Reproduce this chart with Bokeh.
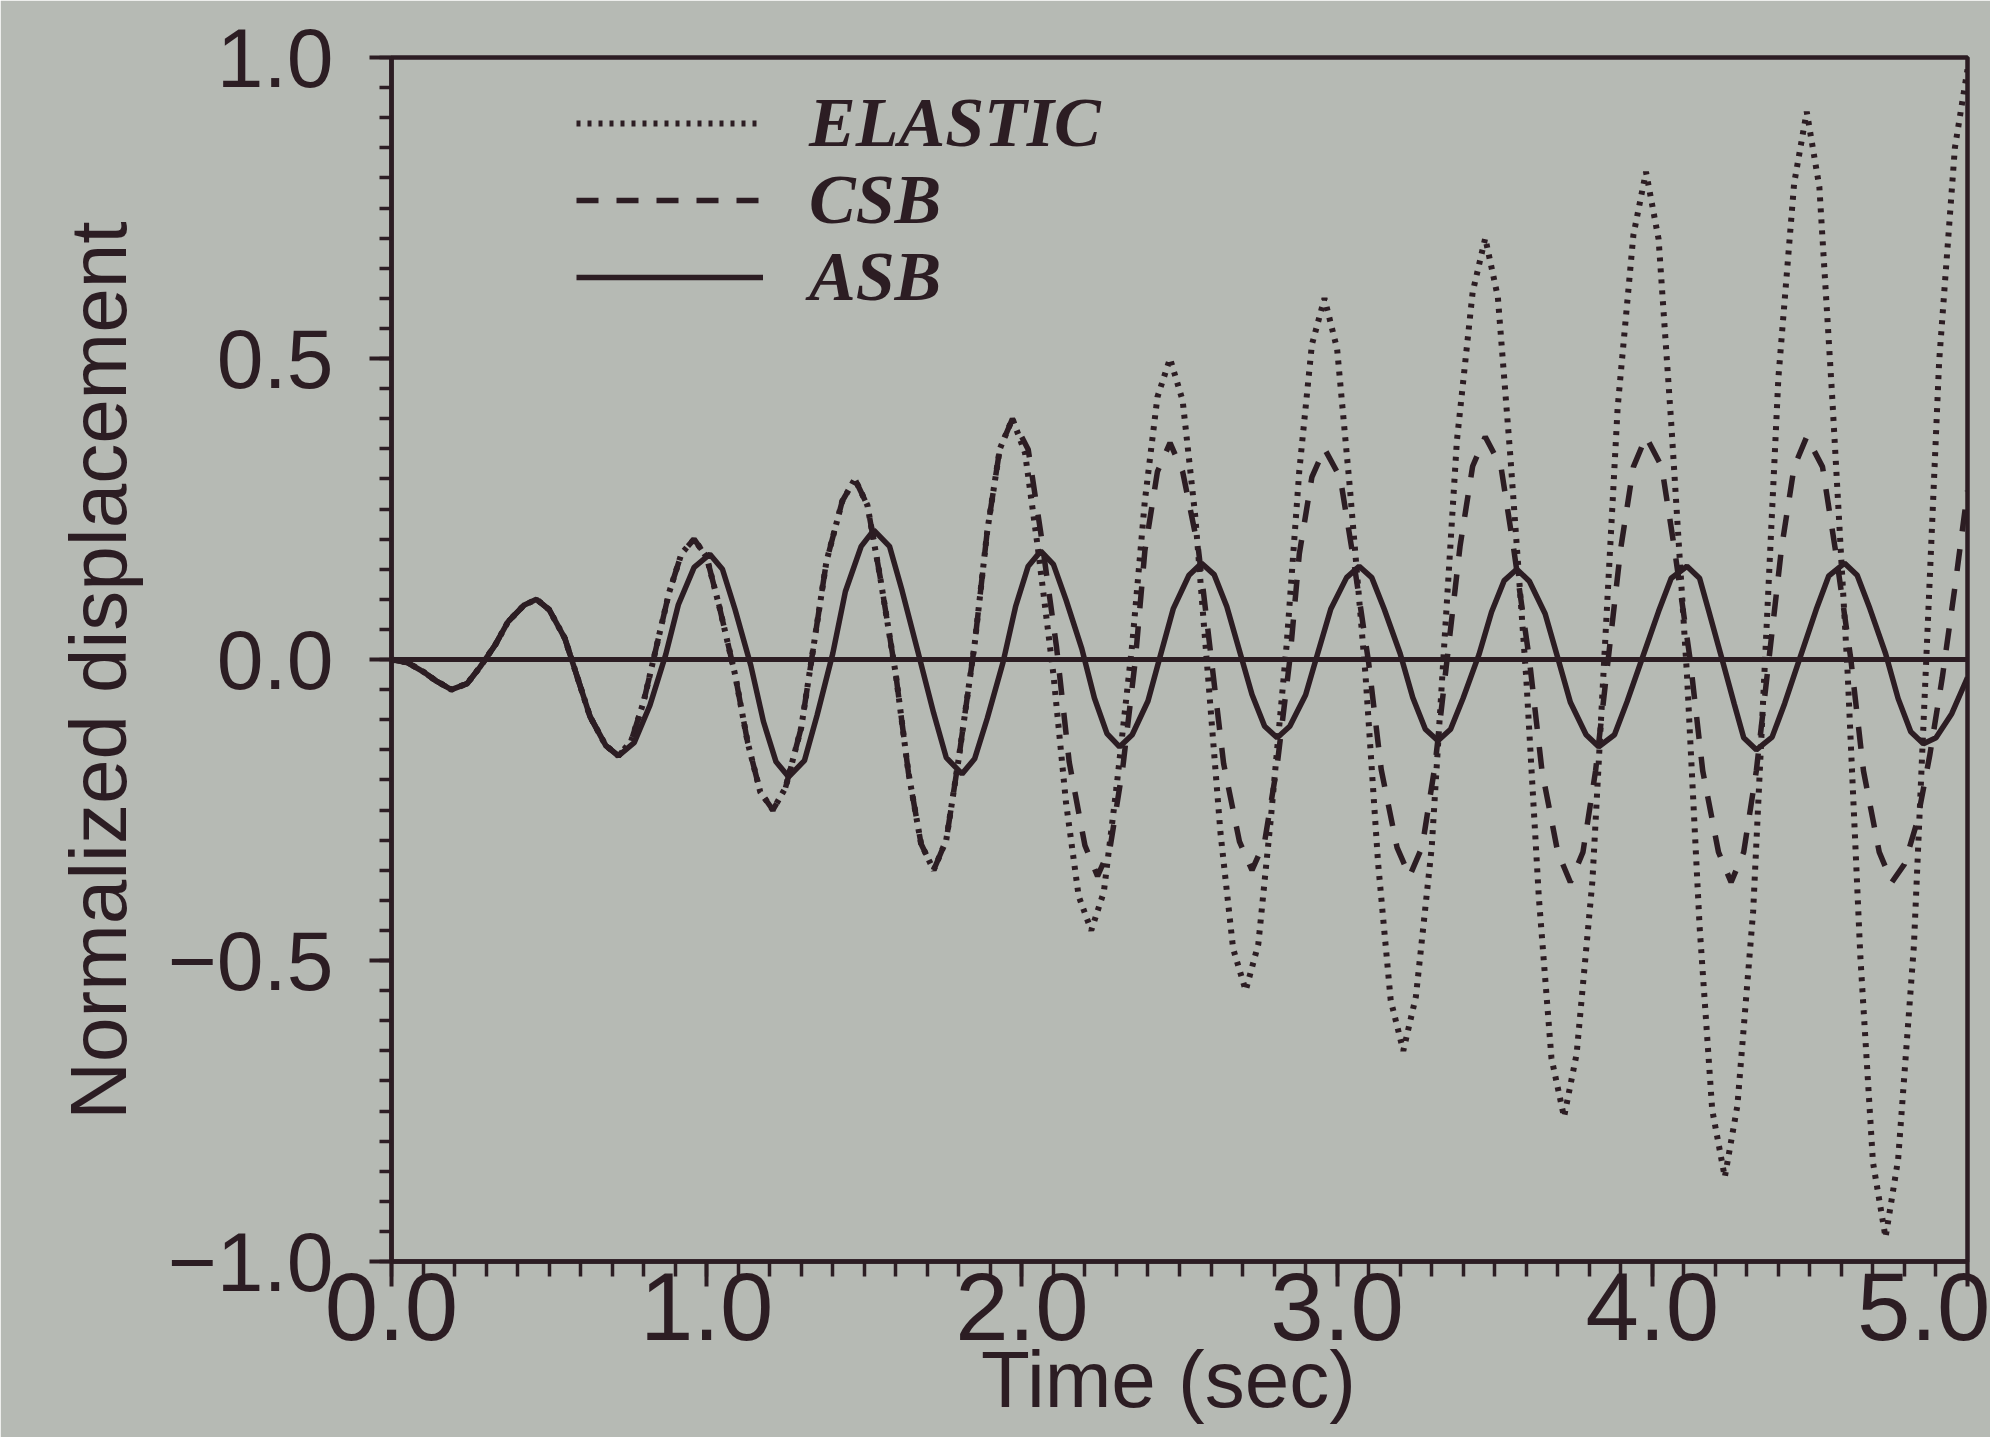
from bokeh.plotting import figure
from bokeh.models import (Range1d, SingleIntervalTicker, Span, Legend, LegendItem)
from bokeh.embed import file_html
from bokeh.resources import INLINE

# ---------------- data ----------------
ELASTIC_T = [0.00, 0.05, 0.10, 0.14, 0.19, 0.24, 0.28, 0.33, 0.37, 0.42, 0.46,
             0.50, 0.55, 0.59, 0.63, 0.68, 0.72, 0.76, 0.80, 0.84, 0.88, 0.92, 0.96,
             1.00, 1.04, 1.09, 1.13, 1.17, 1.21, 1.25, 1.30, 1.34, 1.38, 1.43, 1.47,
             1.51, 1.55, 1.60, 1.64, 1.68, 1.72, 1.76, 1.80, 1.85, 1.89, 1.93, 1.97,
             2.01, 2.05, 2.10, 2.14, 2.18, 2.22, 2.26, 2.30, 2.35, 2.39, 2.43, 2.47,
             2.51, 2.55, 2.59, 2.63, 2.67, 2.71, 2.75, 2.79, 2.84, 2.88, 2.92, 2.96,
             3.00, 3.04, 3.09, 3.13, 3.17, 3.21, 3.25, 3.30, 3.34, 3.38, 3.43, 3.47,
             3.51, 3.55, 3.60, 3.64, 3.68, 3.72, 3.76, 3.81, 3.85, 3.89, 3.94, 3.98,
             4.02, 4.06, 4.11, 4.15, 4.19, 4.23, 4.27, 4.32, 4.36, 4.40, 4.45, 4.49,
             4.53, 4.57, 4.62, 4.66, 4.70, 4.74, 4.78, 4.83, 4.87, 4.91, 4.96, 5.00]
ELASTIC_D = [0.000, -0.005, -0.020, -0.035, -0.050, -0.040, -0.013, 0.025, 0.063, 0.090, 0.100,
             0.083, 0.035, -0.030, -0.095, -0.143, -0.160, -0.136, -0.070, 0.020, 0.110, 0.176, 0.200,
             0.170, 0.088, -0.025, -0.138, -0.220, -0.250, -0.213, -0.113, 0.025, 0.163, 0.263, 0.300,
             0.256, 0.138, -0.025, -0.188, -0.306, -0.350, -0.300, -0.163, 0.025, 0.213, 0.350, 0.400,
             0.343, 0.188, -0.025, -0.238, -0.393, -0.450, -0.386, -0.213, 0.025, 0.263, 0.436, 0.500,
             0.430, 0.238, -0.025, -0.288, -0.480, -0.550, -0.473, -0.263, 0.025, 0.313, 0.523, 0.600,
             0.516, 0.288, -0.025, -0.338, -0.566, -0.650, -0.560, -0.313, 0.025, 0.363, 0.610, 0.700,
             0.602, 0.335, -0.030, -0.395, -0.662, -0.760, -0.655, -0.368, 0.025, 0.418, 0.705, 0.810,
             0.698, 0.393, -0.025, -0.443, -0.748, -0.860, -0.741, -0.418, 0.025, 0.468, 0.791, 0.910,
             0.785, 0.443, -0.025, -0.493, -0.835, -0.960, -0.830, -0.475, 0.010, 0.495, 0.850, 0.980]

CSB_T = [0.00, 0.05, 0.10, 0.14, 0.19, 0.24, 0.28, 0.33, 0.37, 0.42, 0.46,
         0.50, 0.55, 0.59, 0.63, 0.68, 0.72, 0.76, 0.80, 0.84, 0.88, 0.92, 0.96,
         1.00, 1.04, 1.09, 1.13, 1.17, 1.21, 1.25, 1.30, 1.34, 1.38, 1.43, 1.47,
         1.51, 1.55, 1.60, 1.64, 1.68, 1.72, 1.76, 1.80, 1.85, 1.89, 1.93, 1.97,
         2.02, 2.06, 2.11, 2.15, 2.20, 2.24, 2.28, 2.32, 2.36, 2.39, 2.43, 2.47,
         2.51, 2.56, 2.60, 2.64, 2.69, 2.73, 2.77, 2.81, 2.85, 2.88, 2.92, 2.96,
         3.01, 3.05, 3.10, 3.14, 3.19, 3.23, 3.27, 3.31, 3.35, 3.39, 3.43, 3.47,
         3.52, 3.56, 3.61, 3.65, 3.70, 3.74, 3.78, 3.82, 3.86, 3.90, 3.94, 3.98,
         4.03, 4.07, 4.12, 4.16, 4.21, 4.25, 4.29, 4.33, 4.37, 4.41, 4.45, 4.49,
         4.54, 4.58, 4.63, 4.67, 4.72, 4.76, 4.80, 4.84, 4.88, 4.92, 4.96, 5.00]
CSB_D = [0.000, -0.005, -0.020, -0.035, -0.050, -0.040, -0.013, 0.025, 0.063, 0.090, 0.100,
         0.083, 0.035, -0.030, -0.095, -0.143, -0.160, -0.136, -0.070, 0.020, 0.110, 0.176, 0.200,
         0.170, 0.088, -0.025, -0.138, -0.220, -0.250, -0.213, -0.113, 0.025, 0.163, 0.263, 0.300,
         0.256, 0.138, -0.025, -0.188, -0.306, -0.350, -0.300, -0.163, 0.025, 0.213, 0.350, 0.400,
         0.349, 0.210, 0.020, -0.170, -0.309, -0.360, -0.312, -0.180, 0.000, 0.180, 0.312, 0.360,
         0.312, 0.183, 0.005, -0.173, -0.302, -0.350, -0.303, -0.175, 0.000, 0.175, 0.303, 0.350,
         0.302, 0.173, -0.005, -0.183, -0.312, -0.360, -0.311, -0.178, 0.005, 0.188, 0.321, 0.370,
         0.320, 0.185, 0.000, -0.185, -0.320, -0.370, -0.320, -0.185, 0.000, 0.185, 0.320, 0.370,
         0.320, 0.185, 0.000, -0.185, -0.320, -0.370, -0.320, -0.185, 0.000, 0.185, 0.320, 0.370,
         0.320, 0.185, 0.000, -0.185, -0.320, -0.370, -0.340, -0.270, -0.160, -0.030, 0.120, 0.280]

ASB_T = [0.00, 0.05, 0.10, 0.14, 0.19, 0.24, 0.28, 0.33, 0.37, 0.42, 0.46,
         0.50, 0.55, 0.59, 0.63, 0.68, 0.72, 0.77, 0.82, 0.87, 0.91, 0.96, 1.01,
         1.05, 1.09, 1.14, 1.18, 1.22, 1.26, 1.31, 1.35, 1.40, 1.44, 1.49, 1.53,
         1.58, 1.62, 1.67, 1.72, 1.76, 1.81, 1.85, 1.89, 1.94, 1.98, 2.02, 2.06,
         2.10, 2.14, 2.19, 2.23, 2.27, 2.31, 2.35, 2.40, 2.44, 2.48, 2.53, 2.57,
         2.61, 2.65, 2.69, 2.73, 2.77, 2.81, 2.85, 2.90, 2.94, 2.98, 3.03, 3.07,
         3.11, 3.15, 3.20, 3.24, 3.28, 3.32, 3.36, 3.40, 3.45, 3.49, 3.53, 3.57,
         3.61, 3.66, 3.70, 3.74, 3.79, 3.83, 3.88, 3.92, 3.97, 4.02, 4.06, 4.11,
         4.15, 4.18, 4.22, 4.26, 4.29, 4.33, 4.38, 4.42, 4.47, 4.52, 4.56, 4.61,
         4.65, 4.69, 4.74, 4.78, 4.82, 4.86, 4.90, 4.95, 5.00]
ASB_D = [0.000, -0.005, -0.020, -0.035, -0.050, -0.040, -0.013, 0.025, 0.063, 0.090, 0.100,
         0.083, 0.035, -0.030, -0.095, -0.143, -0.160, -0.138, -0.076, 0.008, 0.091, 0.153, 0.175,
         0.150, 0.083, -0.010, -0.103, -0.170, -0.195, -0.168, -0.093, 0.010, 0.113, 0.188, 0.215,
         0.188, 0.114, 0.013, -0.089, -0.163, -0.190, -0.165, -0.098, -0.005, 0.088, 0.155, 0.180,
         0.158, 0.099, 0.018, -0.064, -0.123, -0.145, -0.125, -0.069, 0.008, 0.084, 0.140, 0.160,
         0.141, 0.088, 0.015, -0.058, -0.111, -0.130, -0.111, -0.059, 0.013, 0.084, 0.136, 0.155,
         0.136, 0.083, 0.010, -0.063, -0.116, -0.135, -0.116, -0.064, 0.008, 0.079, 0.131, 0.150,
         0.130, 0.076, 0.003, -0.071, -0.125, -0.145, -0.125, -0.070, 0.005, 0.080, 0.135, 0.155,
         0.135, 0.079, 0.003, -0.074, -0.130, -0.150, -0.129, -0.073, 0.005, 0.083, 0.139, 0.160,
         0.140, 0.085, 0.010, -0.065, -0.120, -0.140, -0.130, -0.090, -0.030]

SERIES_NAMES = ["ELASTIC", "CSB", "ASB"]
X_TICKS = [0, 1, 2, 3, 4, 5]
X_TICK_LABELS = ["0.0", "1.0", "2.0", "3.0", "4.0", "5.0"]
Y_TICKS = [-1.0, -0.5, 0.0, 0.5, 1.0]
Y_TICK_LABELS = ["\u22121.0", "\u22120.5", "0.0", "0.5", "1.0"]
X_TITLE = "Time  (sec)"
Y_TITLE = "Normalized  displacement"

# ---------------- styling ----------------
PAPER = "#b6bab4"
INK = "#2c1d23"
SANS = "Liberation Sans"

p = figure(width=1990, height=1437, output_backend="svg", toolbar_location=None,
           x_range=Range1d(0, 5), y_range=Range1d(-1, 1),
           min_border_left=391, min_border_right=23, min_border_top=57,
           min_border_bottom=176)
p.background_fill_color = PAPER
p.border_fill_color = PAPER
p.outline_line_color = INK
p.outline_line_width = 4.5
p.grid.visible = False

# axes
p.xaxis.ticker = SingleIntervalTicker(interval=1, num_minor_ticks=10)
p.yaxis.ticker = SingleIntervalTicker(interval=0.5, num_minor_ticks=10)
p.xaxis.major_label_overrides = dict(zip(X_TICKS, X_TICK_LABELS))
p.yaxis.major_label_overrides = dict(zip(Y_TICKS, Y_TICK_LABELS))
for ax in (p.xaxis, p.yaxis):
    ax.axis_line_color = INK
    ax.axis_line_width = 4.5
    ax.major_tick_line_color = INK
    ax.minor_tick_line_color = INK
    ax.major_tick_line_width = 4
    ax.minor_tick_line_width = 3.5
    ax.major_tick_in = 0
    ax.minor_tick_in = 0
    ax.major_label_text_color = INK
    ax.major_label_text_font = SANS
    ax.axis_label_text_color = INK
    ax.axis_label_text_font = SANS
    ax.axis_label_text_font_style = "normal"
    ax.axis_label_text_font_size = "80px"

p.xaxis.major_tick_out = 25
p.xaxis.minor_tick_out = 15
p.xaxis.major_label_text_font_size = "96px"
p.xaxis.major_label_standoff = -14
p.xaxis.axis_label = X_TITLE
p.xaxis.axis_label_standoff = -8

p.yaxis.major_tick_out = 22
p.yaxis.minor_tick_out = 12
p.yaxis.major_label_text_font_size = "84px"
p.yaxis.major_label_standoff = 36
p.yaxis.axis_label = Y_TITLE
p.yaxis.axis_label_standoff = 22

# zero line
p.add_layout(Span(location=0, dimension="width", line_color=INK, line_width=5))

# curves
r_el = p.line(ELASTIC_T, ELASTIC_D, line_color=INK, line_width=6, line_dash="4 7")
r_csb = p.line(CSB_T, CSB_D, line_color=INK, line_width=5.5, line_dash="22 18")
r_asb = p.line(ASB_T, ASB_D, line_color=INK, line_width=5.5)

# legend: one single-item legend per row so the rows can sit tightly
for r, name, bottom in zip([r_el, r_csb, r_asb], SERIES_NAMES, [1088, 1011, 934]):
    lg = Legend(items=[LegendItem(label=name, renderers=[r])],
                location=(185, bottom), orientation="vertical",
                glyph_width=187, glyph_height=100, label_height=100,
                label_standoff=46, padding=0, margin=0, spacing=0,
                border_line_alpha=0, background_fill_alpha=0,
                label_text_font="Liberation Serif",
                label_text_font_style="bold italic",
                label_text_font_size="70px", label_text_color=INK)
    p.add_layout(lg)

open("out.html", "w").write(file_html(p, INLINE))
